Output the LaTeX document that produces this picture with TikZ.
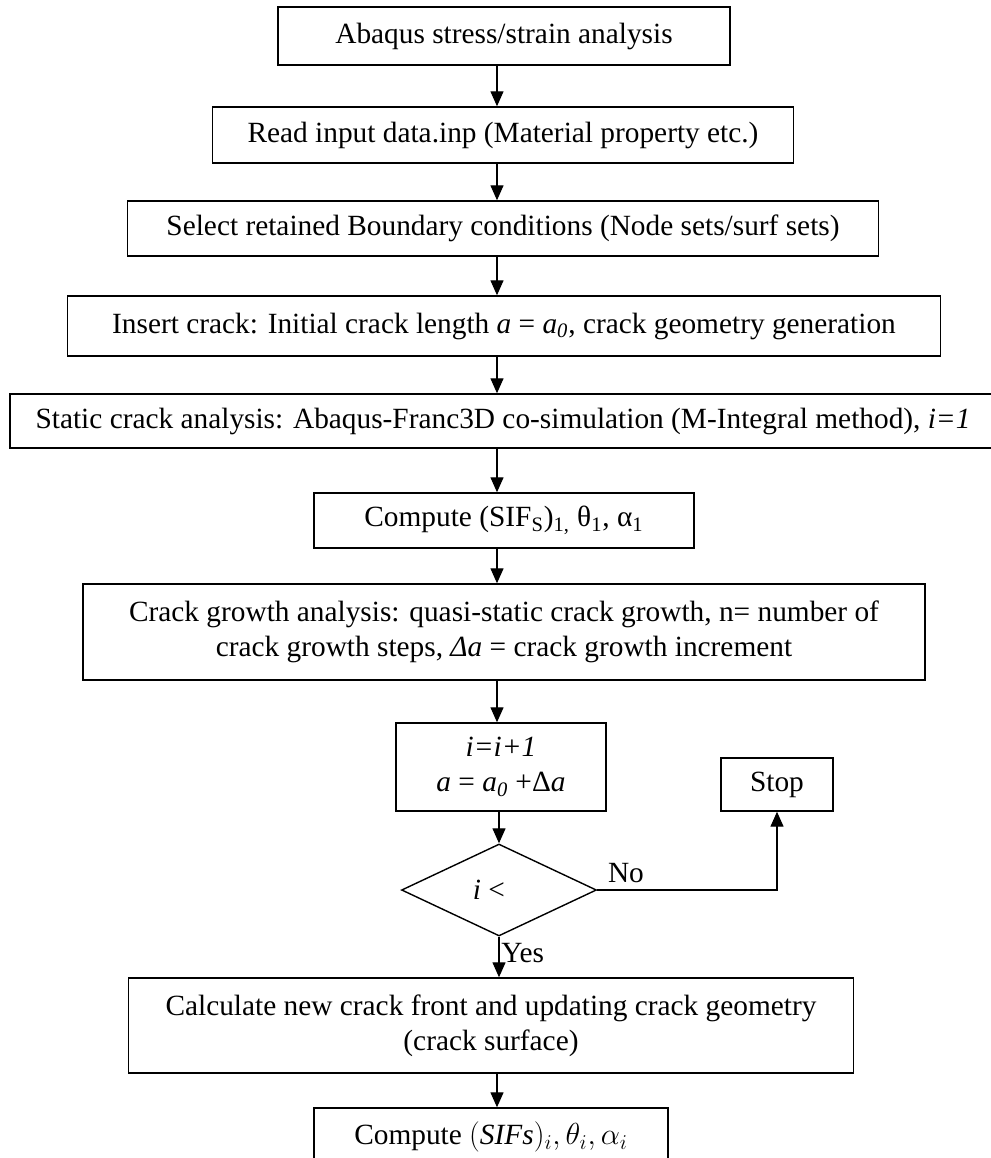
\documentclass[tikz,border=0pt]{standalone}
\usepackage{fontspec}
\setmainfont{Liberation Serif}
\usepackage{tikz}
\usetikzlibrary{arrows.meta,shapes.geometric}

\begin{document}
\begin{tikzpicture}[x=0.02cm, y=-0.02cm,
    every node/.style={font=\fontsize{16.7}{20}\selectfont},
    block/.style={draw, line width=0.8pt, rectangle, align=center, inner sep=2pt},
    decision/.style={draw, line width=0.8pt, diamond, inner sep=0pt, minimum width=3.9cm, minimum height=1.84cm},
    flow/.style={line width=0.7pt, -{Triangle[length=0.3cm, width=0.26cm]}}]
    \useasboundingbox (0,0) rectangle (990,1158);
    \coordinate (axis) at (497,0);

    % main chain
    \node[block, minimum width=9.04cm, minimum height=1.16cm] (abaqus) at (504,36) {Abaqus stress/strain analysis};
    \node[block, minimum width=11.62cm, minimum height=1.12cm] (readinp) at (503,135) {Read input data.inp (Material property etc.)};
    \node[block, minimum width=15.02cm, minimum height=1.10cm] (select) at (503,228.5) {Select retained Boundary conditions (Node sets/surf sets)};
    \node[block, minimum width=17.46cm, minimum height=1.2cm] (insert) at (504,326) {Insert crack: Initial crack length \textit{a} = \textit{a\textsubscript{0}}, crack geometry generation};
    \node[block, minimum width=19.72cm, minimum height=1.08cm] (static) at (503,421) {Static crack analysis: Abaqus-Franc3D co-simulation (M-Integral method), \textit{i=1}};
    \node[block, minimum width=7.6cm, minimum height=1.1cm] (sifone) at (504,520.5) {Compute (SIF\textsubscript{S})\textsubscript{1,} θ\textsubscript{1}, α\textsubscript{1}};
    \node[block, minimum width=16.84cm, minimum height=1.92cm] (growth) at (504,632) {Crack growth analysis: quasi-static crack growth, n= number of\\ crack growth steps, \textit{Δa} = crack growth increment};
    \node[block, minimum width=4.2cm, minimum height=1.76cm] (incr) at (501,767) {\textit{i=i+1}\\ \textit{a} = \textit{a\textsubscript{0}} +Δ\textit{a}};
    \node[block, minimum width=2.24cm, minimum height=1.06cm] (stop) at (777,784.5) {Stop};
    \node[decision] (check) at (499,890) {\hspace*{-0.4cm}\textit{i} <};
    \node[block, minimum width=14.5cm, minimum height=1.9cm] (front) at (491,1025.5) {Calculate new crack front and updating crack geometry\\ (crack surface)};
    \node[block, minimum width=7.08cm, minimum height=1.16cm] (sifi) at (491,1137) {Compute $(\mathit{SIFs})_i,\theta_i,\alpha_i$};

    % arrows
    \draw[flow] (abaqus.south -| axis) -- (readinp.north -| axis);
    \draw[flow] (readinp.south -| axis) -- (select.north -| axis);
    \draw[flow] (select.south -| axis) -- (insert.north -| axis);
    \draw[flow] (insert.south -| axis) -- (static.north -| axis);
    \draw[flow] (static.south -| axis) -- (sifone.north -| axis);
    \draw[flow] (sifone.south -| axis) -- (growth.north -| axis);
    \draw[flow] (growth.south -| axis) -- (incr.north -| axis);
    \draw[flow] (incr.south -| check.north) -- (check.north);
    \draw[flow] (check.east) -| node[pos=0.08, above, inner sep=4pt] {No} (stop.south);
    \draw[flow] (check.south) -- node[pos=0.4, right, inner sep=1pt] {Yes} (front.north -| check.south);
    \draw[flow] (front.south -| axis) -- (sifi.north -| axis);
\end{tikzpicture}
\end{document}
